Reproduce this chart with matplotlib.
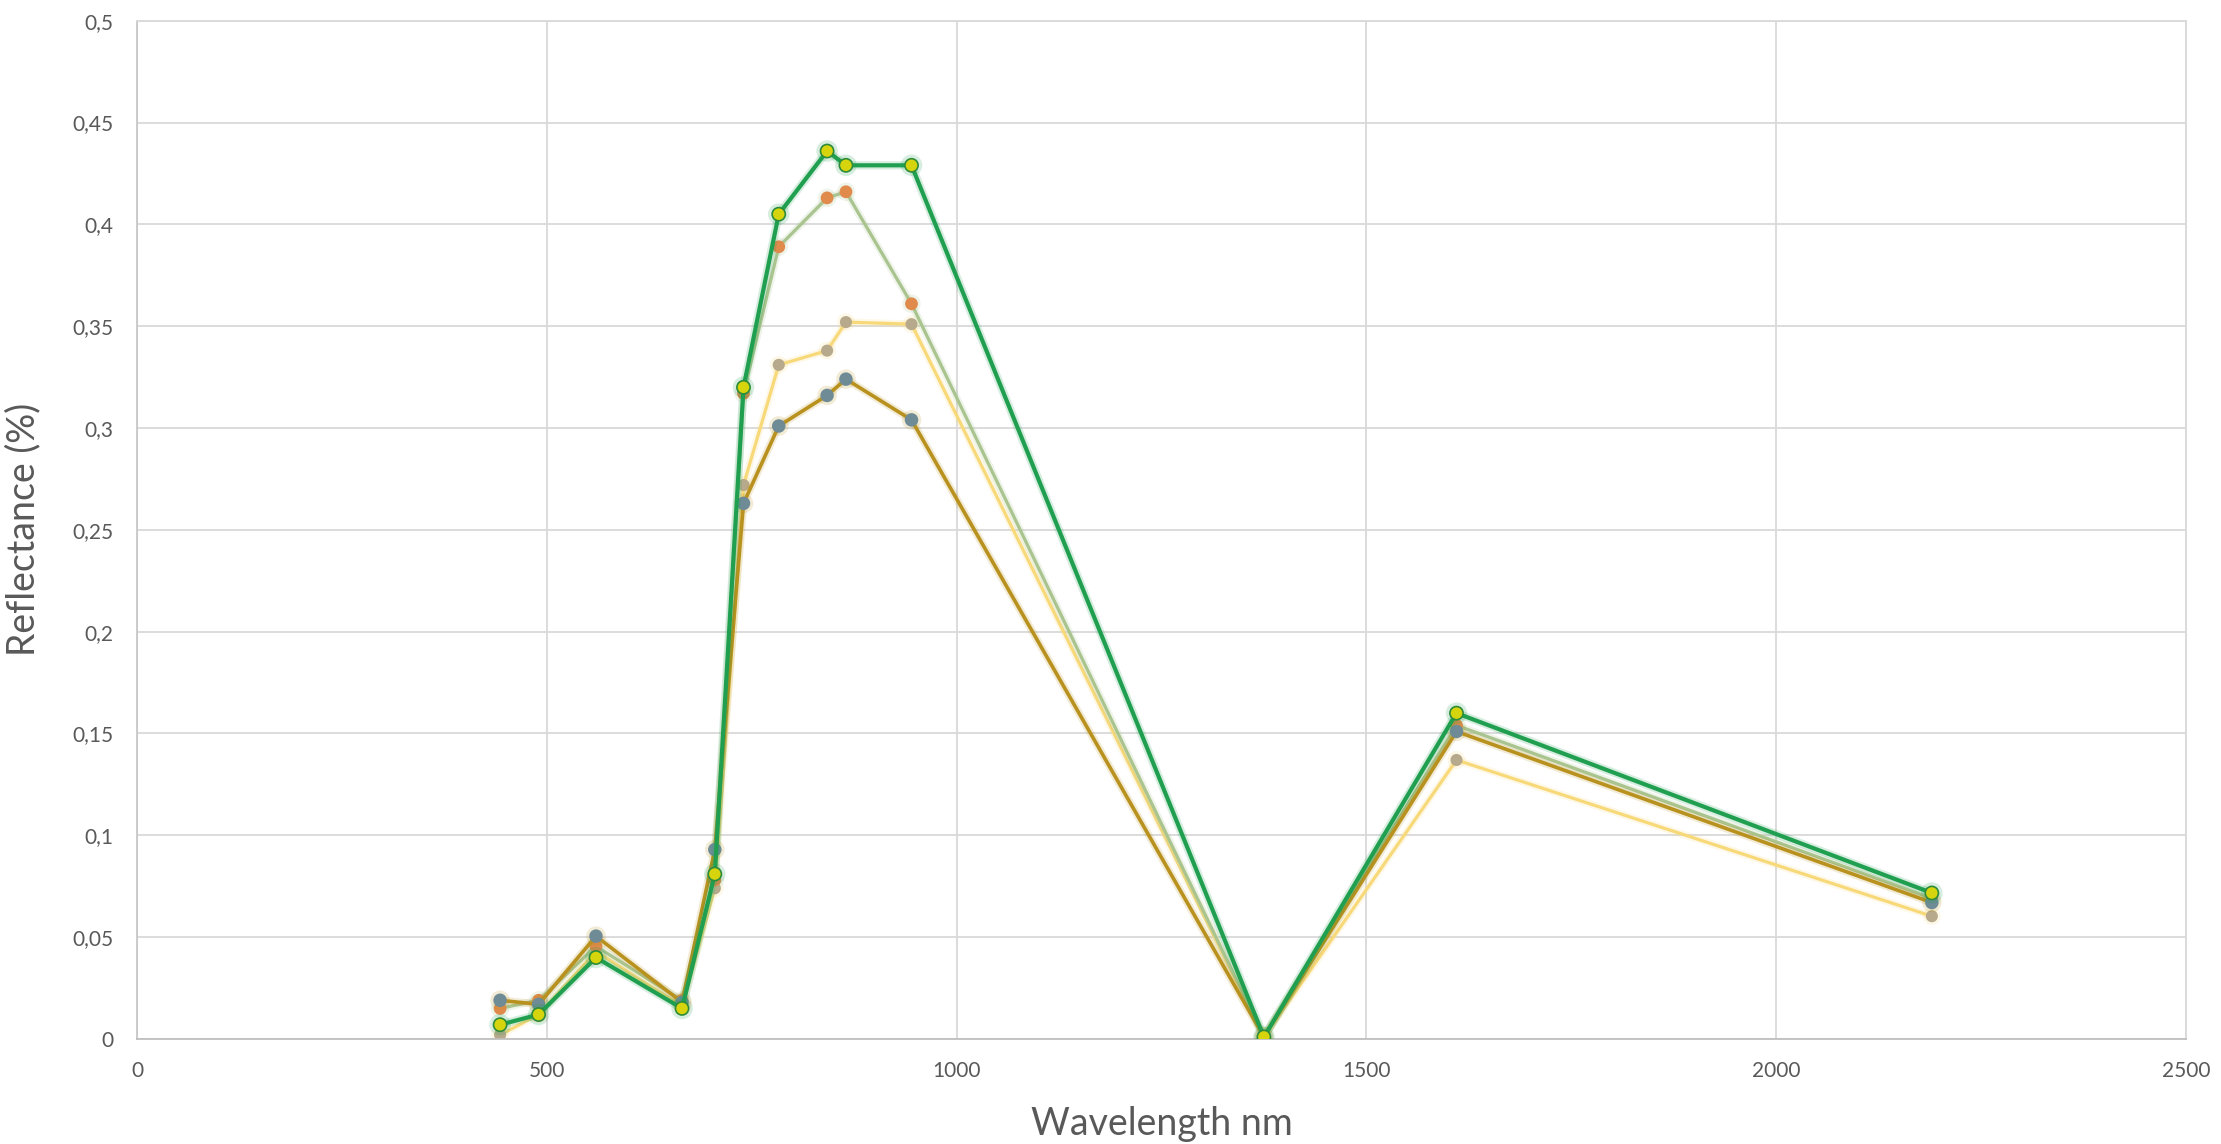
import matplotlib
matplotlib.use("Agg")
import matplotlib.pyplot as plt
import matplotlib.patheffects as pe
from matplotlib.ticker import FuncFormatter, MultipleLocator

plt.rcParams['font.family'] = ['Lato', 'DejaVu Sans']

wavelengths = [443, 490, 560, 665, 705, 740, 783, 842, 865, 945, 1375, 1610, 2190]

series_a = [0.007, 0.012, 0.040, 0.015, 0.081, 0.320, 0.405, 0.436, 0.429, 0.429, 0.001, 0.160, 0.0717]
series_b = [0.015, 0.019, 0.0455, 0.019, 0.078, 0.317, 0.389, 0.413, 0.416, 0.361, 0.001, 0.154, 0.069]
series_c = [0.002, 0.012, 0.043, 0.016, 0.074, 0.272, 0.331, 0.338, 0.352, 0.351, 0.001, 0.137, 0.0603]
series_d = [0.019, 0.017, 0.0505, 0.018, 0.093, 0.263, 0.301, 0.316, 0.324, 0.304, 0.001, 0.151, 0.067]

x_label = "Wavelength nm"
y_label = "Reflectance (%)"

fig = plt.figure(figsize=(22.21, 11.44), dpi=100)
ax = fig.add_axes([0.0617, 0.0918, 0.9225, 0.8901])

grid_c = "#d9d9d9"
text_c = "#595959"

styles = [
    (series_c, "#f8d97a", "#b7a98b", "#b7a98b", 2.3, 7.5, 2),
    (series_b, "#a9c48e", "#e08a4c", "#e08a4c", 2.3, 8, 3),
    (series_d, "#b8911f", "#6f8b96", "#6f8b96", 2.6, 8.5, 4),
    (series_a, "#1f9f4f", "#d6d40c", "#2e8b3a", 3.0, 9.5, 5),
]
for vals, lc, mfc, mec, lw, ms, z in styles:
    ax.plot(wavelengths, vals, color=lc, lw=lw, marker="o", markersize=ms,
            markerfacecolor=mfc, markeredgecolor=mec, markeredgewidth=1.2,
            zorder=z, solid_joinstyle="round",
            path_effects=[pe.Stroke(linewidth=lw + 3, foreground=lc, alpha=0.18), pe.Normal()])

ax.set_xlim(0, 2500)
ax.set_ylim(0, 0.5)
ax.xaxis.set_major_locator(MultipleLocator(500))
ax.yaxis.set_major_locator(MultipleLocator(0.05))

def yfmt(v, pos):
    s = f"{v:.2f}".rstrip("0").rstrip(".")
    return s.replace(".", ",")
ax.yaxis.set_major_formatter(FuncFormatter(yfmt))
ax.xaxis.set_major_formatter(FuncFormatter(lambda v, p: f"{int(v)}"))

ax.grid(True, color=grid_c, lw=1.3)
ax.set_axisbelow(True)
for s in ax.spines.values():
    s.set_color(grid_c)
    s.set_linewidth(1.3)
ax.spines['bottom'].set_color("#bfbfbf")
ax.spines['left'].set_color("#c8c8c8")

ax.tick_params(axis="both", length=0, labelsize=15, labelcolor=text_c)
ax.tick_params(axis="y", pad=17)
ax.tick_params(axis="x", pad=16)

ax.set_xlabel(x_label, fontsize=27, color=text_c, labelpad=18)
ax.set_ylabel(y_label, fontsize=27, color=text_c, labelpad=22)

fig.savefig("out.png", dpi=100, facecolor="white")
